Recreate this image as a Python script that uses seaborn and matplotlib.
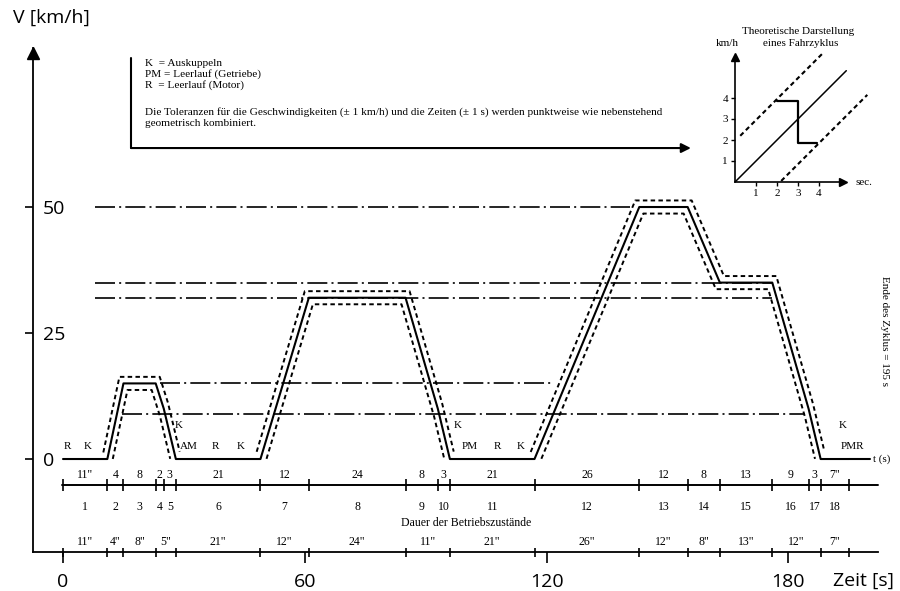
import numpy as np
import matplotlib
matplotlib.use("Agg")
import matplotlib.pyplot as plt
import seaborn as sns

# ---------------- data ----------------
# ECE-15 driving cycle: speed profile (km/h) over time (s)
profile_t = [0, 11, 15, 23, 25, 28, 49, 61, 85, 93, 96, 117, 143, 155, 163, 176, 185, 188, 195]
profile_v = [0, 0, 15, 15, 10, 0, 0, 32, 32, 10, 0, 0, 50, 50, 35, 35, 10, 0, 0]

# tolerances (as drawn)
TOL_V = 1.3   # km/h
TOL_T = 1.0   # s

# phase boundaries, durations and numbers
phase_bounds = [0, 11, 15, 23, 25, 28, 49, 61, 85, 93, 96, 117, 143, 155, 163, 176, 185, 188, 195]
phase_durations = ['11"', '4', '8', '2', '3', '21', '12', '24', '8', '3', '21', '26',
                   '12', '8', '13', '9', '3', '7"']
phase_numbers = [str(i) for i in range(1, 19)]

# operating-state boundaries and durations
state_bounds = [0, 11, 15, 23, 28, 49, 61, 85, 96, 117, 143, 155, 163, 176, 188, 195]
state_durations = ['11"', '4"', '8"', '5"', '21"', '12"', '24"', '11"', '21"', '26"',
                   '12"', '8"', '13"', '12"', '7"']

# dash-dot reference speed lines
ref_speeds = [50, 35, 32, 15, 9]
ref_start = [7.9, 7.9, 7.9, 24.0, 14.6]
ref_end = [140.7, 176.0, 176.0, 121.6, 184.0]

# gear / clutch labels on the curve
gear_labels = ['R', 'K', 'K', 'AM', 'R', 'K', 'K', 'PM', 'R', 'K', 'K', 'PMR']
gear_label_t = [1.2, 6.2, 28.8, 31.3, 37.7, 44.2, 98.0, 101.0, 107.7, 113.6, 193.5, 196.0]
gear_label_v = [2.4, 2.4, 6.6, 2.4, 2.4, 2.4, 6.6, 2.4, 2.4, 2.4, 6.6, 2.4]

x_ticks = [0, 60, 120, 180]
y_ticks = [0, 25, 50]

legend_lines = ["K  = Auskuppeln",
                "PM = Leerlauf (Getriebe)",
                "R  = Leerlauf (Motor)",
                "Die Toleranzen für die Geschwindigkeiten (± 1 km/h) und die Zeiten (± 1 s) werden punktweise wie nebenstehend",
                "geometrisch kombiniert."]

# inset: theoretical representation
inset_ideal_x = [0, 5.3]
inset_ideal_y = [0, 5.3]
inset_upper_x = [0.25, 4.15]
inset_upper_y = [2.2, 6.1]
inset_lower_x = [2.2, 6.3]
inset_lower_y = [0.05, 4.15]
inset_step_x = [2.0, 3.0, 3.0, 3.9]
inset_step_y = [3.85, 3.85, 1.85, 1.85]
inset_ticks = [1, 2, 3, 4]

# ---------------- style ----------------
sns.set_theme(style="white")
plt.rcParams['font.family'] = ['Liberation Serif', 'DejaVu Serif']
plt.rcParams['text.color'] = 'black'
plt.rcParams['xtick.color'] = 'black'
plt.rcParams['ytick.color'] = 'black'
plt.rcParams['axes.edgecolor'] = 'black'
SANS = ['Open Sans', 'DejaVu Sans']
SERIF = ['Liberation Serif', 'DejaVu Serif']

W, H = 900, 591
fig = plt.figure(figsize=(9, 5.91), dpi=100)
fig.patch.set_facecolor('white')


def fx(x):
    return x / W


def fy(y):
    return 1 - y / H


# ---------------- main axes ----------------
ax = fig.add_axes([fx(32.5), fy(552), 847.5 / W, 504 / H])
ax.set_facecolor('white')
ax.set_xlim(-7.57, 202.73)
ax.set_ylim(-18.45, 81.55)
for s in ['top', 'right']:
    ax.spines[s].set_visible(False)
for s in ['left', 'bottom']:
    ax.spines[s].set_color('black')
    ax.spines[s].set_linewidth(1.3)
ax.spines['bottom'].set_bounds(-7.57, 202.2)

# y-axis arrow head
ax.plot([-7.57], [80.6], marker='^', ms=8, color='black', clip_on=False)

# reference speed lines (dash-dot)
for v, s, e in zip(ref_speeds, ref_start, ref_end):
    ax.plot([s, e], [v, v], color='black', lw=1.2, ls=(0, (12, 2.5, 1.2, 2.5)), zorder=2)

# tolerance envelopes
tg = np.arange(0, 195.0001, 0.05)
shifts = np.arange(-TOL_T, TOL_T + 1e-9, 0.05)
stack = np.array([np.interp(tg + sh, profile_t, profile_v) for sh in shifts])
vmax = stack.max(axis=0)
vmin = stack.min(axis=0)
upper = np.where(vmax > 0, vmax + TOL_V, np.nan)
lower = vmin - TOL_V
lower = np.where(lower >= 0, lower, np.nan)
ax.plot(tg, upper, color='black', lw=1.4, ls=(0, (2.3, 1.7)), zorder=3)
ax.plot(tg, lower, color='black', lw=1.4, ls=(0, (2.3, 1.7)), zorder=3)

# speed profile
sns.lineplot(x=profile_t, y=profile_v, ax=ax, color='black', lw=1.5,
             estimator=None, sort=False, zorder=4)
# t-axis continuation
ax.plot([profile_t[-1], 200.2], [0, 0], color='black', lw=1.5, zorder=4)
ax.text(201.0, 0, "t (s)", ha='left', va='center', fontsize=8, family=SERIF)

# gear labels
for lab, t, v in zip(gear_labels, gear_label_t, gear_label_v):
    ax.text(t, v, lab, ha='center', va='center', fontsize=8, family=SERIF)

# row 1: phase durations + timeline
ROW1_LINE = -5.16
ROW1_TXT = -3.2
ROW2_TXT = -9.5
ROW3_TXT = -16.5
ax.plot([-0.25, 202.2], [ROW1_LINE, ROW1_LINE], color='black', lw=1.4)
ax.vlines(phase_bounds, ROW1_LINE - 1.1, ROW1_LINE + 1.1, color='black', lw=1.2)
pmids = [(a + b) / 2 for a, b in zip(phase_bounds[:-1], phase_bounds[1:])]
for m, s in zip(pmids, phase_durations):
    ax.text(m, ROW1_TXT, s, ha='center', va='center', fontsize=8.5, family=SERIF)
for m, s in zip(pmids, phase_numbers):
    ax.text(m, ROW2_TXT, s, ha='center', va='center', fontsize=8.5, family=SERIF)
ax.text(100, -12.7, "Dauer der Betriebszustände", ha='center', va='center',
        fontsize=8.5, family=SERIF)
smids = [(a + b) / 2 for a, b in zip(state_bounds[:-1], state_bounds[1:])]
for m, s in zip(smids, state_durations):
    ax.text(m, ROW3_TXT, s, ha='center', va='center', fontsize=8.5, family=SERIF)
ax.vlines(state_bounds, -17.6, -19.4, color='black', lw=1.2, clip_on=False)

# ticks
ax.set_xticks(x_ticks)
ax.set_xticklabels([str(v) for v in x_ticks], fontsize=14, family=SANS)
ax.tick_params(axis='x', direction='out', length=8, width=1.2, pad=7, bottom=True)
ax.set_yticks(y_ticks)
ax.set_yticklabels([str(v) for v in y_ticks], fontsize=14, family=SANS)
ax.tick_params(axis='y', direction='out', length=6, width=1.2, pad=-13.3, left=True)
for lab in ax.get_yticklabels():
    lab.set_horizontalalignment('left')
ax.set_xlabel("")
ax.set_ylabel("")

# legend box lines
ax.plot([16.9, 16.9], [79.6, 61.7], color='black', lw=1.5)
ax.annotate('', xy=(155.8, 61.7), xytext=(16.9, 61.7),
            arrowprops=dict(arrowstyle='-|>', lw=1.5, color='black', mutation_scale=14,
                            shrinkA=0, shrinkB=0))

# axis titles
fig.text(fx(13), fy(18), "V [km/h]", ha='left', va='center', fontsize=14, family=SANS)
fig.text(fx(833), fy(581), "Zeit [s]", ha='left', va='center', fontsize=14, family=SANS)

# legend texts
for yy, s in zip([63, 74, 85, 112, 124], legend_lines):
    fig.text(fx(145), fy(yy), s, ha='left', va='center', fontsize=8.1, family=SERIF)

# vertical end note
fig.text(fx(885), fy(331), "Ende des Zyklus = 195 s", rotation=-90, ha='center',
         va='center', fontsize=8, family=SERIF)

# ---------------- inset ----------------
ins = fig.add_axes([fx(735), fy(182), 136.5 / W, 133 / H])
ins.patch.set_alpha(0)
ins.set_xlim(0, 6.5)
ins.set_ylim(0, 133 / 21)
for s in ['top', 'right']:
    ins.spines[s].set_visible(False)
for s in ['left', 'bottom']:
    ins.spines[s].set_color('black')
    ins.spines[s].set_linewidth(1.2)
ins.spines['left'].set_bounds(0, 6.0)
ins.spines['bottom'].set_bounds(0, 5.2)
ins.plot([0], [5.95], marker='^', ms=6, color='black', clip_on=False)
ins.plot([5.15], [0], marker='>', ms=6, color='black', clip_on=False)
sns.lineplot(x=inset_ideal_x, y=inset_ideal_y, ax=ins, color='black', lw=1.1,
             estimator=None, sort=False)
ins.plot(inset_upper_x, inset_upper_y, color='black', lw=1.5, ls=(0, (2.2, 1.6)))
ins.plot(inset_lower_x, inset_lower_y, color='black', lw=1.5, ls=(0, (2.2, 1.6)),
         clip_on=False)
ins.plot(inset_step_x, inset_step_y, color='black', lw=1.6)
ins.set_xticks(inset_ticks)
ins.set_yticks(inset_ticks)
ins.set_xticklabels([str(v) for v in inset_ticks], fontsize=8, family=SERIF)
ins.set_yticklabels([str(v) for v in inset_ticks], fontsize=8, family=SERIF)
ins.tick_params(direction='out', length=3, width=1, pad=2, bottom=True, left=True)
ins.set_xlabel("")
ins.set_ylabel("")

fig.text(fx(798), fy(31), "Theoretische Darstellung", ha='center', va='center',
         fontsize=8, family=SERIF)
fig.text(fx(801), fy(44), "eines Fahrzyklus", ha='center', va='center',
         fontsize=8, family=SERIF)
fig.text(fx(727), fy(44), "km/h", ha='center', va='center', fontsize=8, family=SERIF)
fig.text(fx(864), fy(183), "sec.", ha='center', va='center', fontsize=8, family=SERIF)

fig.savefig("out.png", dpi=100, facecolor='white')
